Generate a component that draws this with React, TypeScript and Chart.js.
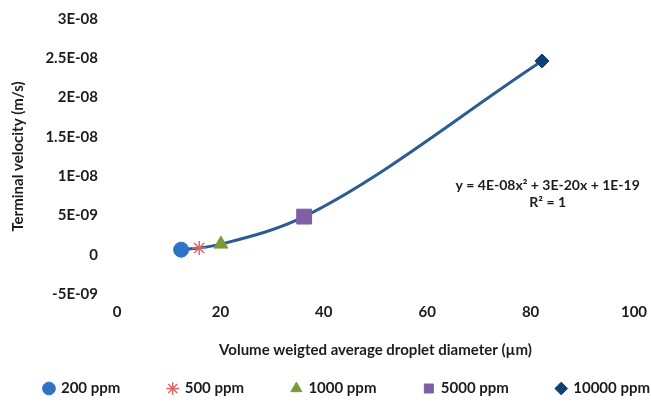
import React, { useEffect, useRef } from "react";
import { Chart, registerables } from "chart.js";

Chart.register(...registerables);

const seriesNames = ["200 ppm", "500 ppm", "1000 ppm", "5000 ppm", "10000 ppm"];
const diameters = [12.4, 15.9, 20.1, 36.2, 82.2];
const velocities = [6.4e-10, 8.5e-10, 1.35e-9, 4.85e-9, 2.466e-8];
const pointStyles = ["circle", "star", "triangle", "rect", "rectRot"];
const markerColors = ["#2F73C4", "#E06666", "#7A9A3A", "#7F5FA6", "#0E3F75"];
const markerSizes = [7.5, 7, 8, 10.5, 7];

const xTicks = [0, 20, 40, 60, 80, 100];
const yTicks = [-5e-9, 0, 5e-9, 1e-8, 1.5e-8, 2e-8, 2.5e-8, 3e-8];

const equationLines = ["y = 4E-08x\u00B2 + 3E-20x + 1E-19", "R\u00B2 = 1"];
const equationAnchor = { x: 83.3, y: 8.8e-9 };

const FONT = "Lato, 'Open Sans', sans-serif";
const TEXT = "#1c1c1c";
const LEGEND_GAP = "\u2003\u2003\u2003\u2003\u2009";

function fmtSci(v: number): string {
  if (Math.abs(v) < 1e-15) return "0";
  const exp = Math.floor(Math.log10(Math.abs(v)) + 1e-9);
  const mant = Math.round((v / Math.pow(10, exp)) * 10) / 10;
  const e = Math.abs(exp);
  return `${mant}E${exp < 0 ? "-" : "+"}${e < 10 ? "0" + e : e}`;
}

const equationPlugin = {
  id: "equationText",
  afterDraw(chart: any) {
    const { ctx, scales } = chart;
    const x = scales.x.getPixelForValue(equationAnchor.x);
    const y = scales.y.getPixelForValue(equationAnchor.y);
    ctx.save();
    ctx.font = `bold 14px ${FONT}`;
    ctx.fillStyle = TEXT;
    ctx.textAlign = "center";
    ctx.textBaseline = "middle";
    equationLines.forEach((t, i) => ctx.fillText(t, x, y + i * 17));
    ctx.restore();
  },
};

export default function App() {
  const ref = useRef<HTMLCanvasElement | null>(null);
  useEffect(() => {
    document.body.style.margin = "0";
    const canvas = ref.current!;
    const datasets: any[] = [
      {
        label: "trend",
        data: diameters.map((x, i) => ({ x, y: velocities[i] })),
        showLine: true,
        borderColor: "#2B5C94",
        borderWidth: 3,
        pointRadius: 0,
        cubicInterpolationMode: "monotone",
        order: 10,
      },
      ...seriesNames.map((name, i) => ({
        label: name,
        data: [{ x: diameters[i], y: velocities[i] }],
        pointStyle: pointStyles[i],
        pointRadius: markerSizes[i],
        backgroundColor: markerColors[i],
        borderColor: markerColors[i],
        borderWidth: pointStyles[i] === "star" ? 1.5 : 1,
        showLine: false,
        order: 1,
      })),
    ];
    const chart = new Chart(canvas, {
      type: "scatter",
      data: { datasets },
      plugins: [equationPlugin],
      options: {
        animation: false,
        responsive: false,
        devicePixelRatio: 1,
        layout: { padding: { left: 0, top: 0, right: 0, bottom: 0 } },
        plugins: {
          tooltip: { enabled: false },
          legend: {
            position: "bottom",
            align: "end",
            labels: {
              filter: (item: any) => item.text !== "trend",
              generateLabels: (chart: any) => {
                const items = Chart.defaults.plugins.legend.labels.generateLabels(chart);
                return items.map((it: any) =>
                  it.text === "10000 ppm" || it.text === "trend" ? it : { ...it, text: it.text + LEGEND_GAP }
                );
              },
              usePointStyle: true,
              boxWidth: 9,
              boxHeight: 9,
              padding: 1,
              color: TEXT,
              font: { family: FONT, size: 15, weight: "bold" },
            },
          },
        },
        scales: {
          x: {
            type: "linear",
            min: 0,
            max: 100,
            afterBuildTicks: (s: any) => {
              s.ticks = xTicks.map((v) => ({ value: v }));
            },
            grid: { display: false, drawTicks: false },
            border: { display: false },
            ticks: {
              padding: 9,
              color: TEXT,
              font: { family: FONT, size: 15, weight: "bold" },
            },
            title: {
              display: true,
              text: "Volume weigted average droplet diameter (\u00B5m)",
              color: TEXT,
              font: { family: FONT, size: 15, weight: "bold" },
              padding: { top: 10, bottom: 21 },
            },
            afterFit: (s: any) => {
              s.height = 86;
              s.paddingLeft = 0;
              s.paddingRight = 17;
            },
          },
          y: {
            type: "linear",
            min: -5e-9,
            max: 3e-8,
            afterBuildTicks: (s: any) => {
              s.ticks = yTicks.map((v) => ({ value: v }));
            },
            grid: { display: false, drawTicks: false },
            border: { display: false },
            ticks: {
              padding: 19,
              color: TEXT,
              font: { family: FONT, size: 15, weight: "bold" },
              callback: (v: any) => fmtSci(Number(v)),
            },
            title: {
              display: true,
              text: "Terminal velocity (m/s)",
              color: TEXT,
              font: { family: FONT, size: 15, weight: "bold" },
              padding: { top: 9, bottom: 0 },
            },
            afterFit: (s: any) => {
              s.width = 117;
              s.paddingTop = 19;
              s.paddingBottom = 0;
            },
          },
        },
      },
    } as any);
    return () => chart.destroy();
  }, []);
  return <canvas ref={ref} width={651} height={406} style={{ display: "block" }} />;
}
